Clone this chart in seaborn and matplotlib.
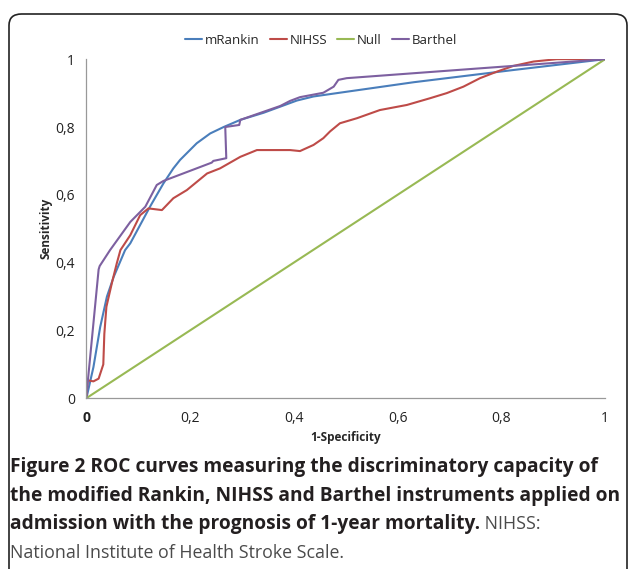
import matplotlib
matplotlib.use("Agg")
import matplotlib.pyplot as plt
from matplotlib.patches import FancyBboxPatch
from matplotlib.ticker import FuncFormatter
import pandas as pd
import seaborn as sns

# -----------------------------
# Data
# -----------------------------
mrankin_x = [0.0, 0.001, 0.014, 0.027, 0.040, 0.053, 0.075, 0.085, 0.104, 0.123, 0.149,
             0.168, 0.181, 0.213, 0.239, 0.265, 0.297, 0.342, 0.374, 0.406, 0.438, 0.502,
             0.631, 0.823, 1.0]
mrankin_y = [0.0, 0.004, 0.092, 0.210, 0.300, 0.358, 0.437, 0.457, 0.511, 0.565, 0.634,
             0.678, 0.703, 0.752, 0.781, 0.800, 0.821, 0.842, 0.860, 0.878, 0.890, 0.904,
             0.932, 0.968, 1.0]

nihss_x = [0.0, 0.003, 0.014, 0.024, 0.033, 0.035, 0.039, 0.050, 0.059, 0.066, 0.085,
           0.104, 0.120, 0.146, 0.168, 0.194, 0.233, 0.258, 0.297, 0.329, 0.393, 0.412,
           0.438, 0.457, 0.470, 0.489, 0.522, 0.566, 0.618, 0.663, 0.695, 0.727, 0.759,
           0.791, 0.823, 0.862, 0.907, 1.0]
nihss_y = [0.0, 0.053, 0.050, 0.058, 0.100, 0.190, 0.270, 0.343, 0.398, 0.437, 0.481,
           0.540, 0.560, 0.555, 0.590, 0.614, 0.663, 0.678, 0.712, 0.732, 0.732, 0.729,
           0.747, 0.767, 0.787, 0.811, 0.826, 0.850, 0.865, 0.885, 0.900, 0.919, 0.944,
           0.963, 0.980, 0.993, 1.0, 1.0]

null_x = [0.0, 1.0]
null_y = [0.0, 1.0]

barthel_x = [0.0, 0.024, 0.026, 0.046, 0.085, 0.114, 0.136, 0.149, 0.242, 0.245, 0.270,
             0.268, 0.295, 0.297, 0.342, 0.374, 0.393, 0.412, 0.457, 0.477, 0.486, 0.502,
             0.759, 1.0]
barthel_y = [0.0, 0.380, 0.390, 0.437, 0.520, 0.565, 0.629, 0.641, 0.695, 0.700, 0.708,
             0.800, 0.806, 0.821, 0.845, 0.862, 0.877, 0.888, 0.901, 0.919, 0.939, 0.944,
             0.973, 1.0]

series_names = ["mRankin", "NIHSS", "Null", "Barthel"]
series_colors = ["#4A7EBB", "#BE4B48", "#98B954", "#7D60A0"]
axis_ticks = [0, 0.2, 0.4, 0.6, 0.8, 1]

frames = []
for name, xs, ys in zip(series_names,
                        [mrankin_x, nihss_x, null_x, barthel_x],
                        [mrankin_y, nihss_y, null_y, barthel_y]):
    frames.append(pd.DataFrame({"x": xs, "y": ys, "curve": name}))
df = pd.concat(frames, ignore_index=True)

# -----------------------------
# Plot
# -----------------------------
sns.set_style("white")
plt.rcParams["font.family"] = ["Open Sans", "DejaVu Sans"]

fig = plt.figure(figsize=(6.29, 5.69), dpi=100)
ax = fig.add_axes([0.137, 0.30, 0.825, 0.596])

sns.lineplot(data=df, x="x", y="y", hue="curve", hue_order=series_names,
             palette=series_colors, sort=False, estimator=None,
             linewidth=1.5, ax=ax, legend=True)

ax.set_xlim(0, 1)
ax.set_ylim(0, 1)
ax.set_xticks(axis_ticks)
ax.set_yticks(axis_ticks)
fmt = FuncFormatter(lambda v, p: ("%g" % v).replace(".", ","))
ax.xaxis.set_major_formatter(fmt)
ax.yaxis.set_major_formatter(fmt)
ax.tick_params(axis="both", labelsize=10, colors="#999999", labelcolor="#222222",
               length=4, width=0.8, direction="out", pad=5)
ax.tick_params(axis="y", pad=4)
ax.get_xticklabels()[0].set_fontweight("bold")

for side in ["top", "right"]:
    ax.spines[side].set_visible(False)
for side in ["left", "bottom"]:
    ax.spines[side].set_color("#999999")
    ax.spines[side].set_linewidth(0.9)

ax.set_xlabel("1-Specificity", fontsize=8.5, fontweight="bold", labelpad=4)
ax.set_ylabel("Sensitivity", fontsize=8.5, fontweight="bold", labelpad=2)

leg = ax.legend(loc="center", bbox_to_anchor=(321 / 629, 1 - 40 / 569),
                bbox_transform=fig.transFigure, ncol=4, frameon=False,
                fontsize=9.5, handlelength=1.3, handletextpad=0.2, columnspacing=0.75,
                borderaxespad=0, borderpad=0)
for line in leg.get_lines():
    line.set_linewidth(1.5)

# rounded frame around the whole figure
frame = FancyBboxPatch((9 / 629, -0.05), 618 / 629, 1.0 - 14 / 569 + 0.05,
                       boxstyle="round,pad=0,rounding_size=0.02",
                       transform=fig.transFigure, fill=False,
                       edgecolor="#222222", linewidth=1.2, clip_on=False)
fig.patches.append(frame)

# caption with mixed bold / regular parts
caption = [
    [("Figure 2 ROC curves measuring the discriminatory capacity of", "bold")],
    [("the modified Rankin, NIHSS and Barthel instruments applied on", "bold")],
    [("admission with the prognosis of 1-year mortality.", "bold"), (" NIHSS:", "light")],
    [("National Institute of Health Stroke Scale.", "light")],
]
caption_y = [467, 496, 524, 553]
renderer = fig.canvas.get_renderer()
for parts, ypx in zip(caption, caption_y):
    xpx = 10
    for text, weight in parts:
        if weight == "bold":
            txt = fig.text(xpx / 629, 1 - ypx / 569, text, fontsize=13.8,
                           fontweight="bold", color="#231F20", ha="left", va="center")
        else:
            txt = fig.text(xpx / 629, 1 - ypx / 569, text, fontsize=12.8,
                           fontweight="normal", color="#4a4a4a", ha="left", va="center")
        bb = txt.get_window_extent(renderer=renderer)
        xpx += bb.width

fig.savefig("out.png", dpi=100)
